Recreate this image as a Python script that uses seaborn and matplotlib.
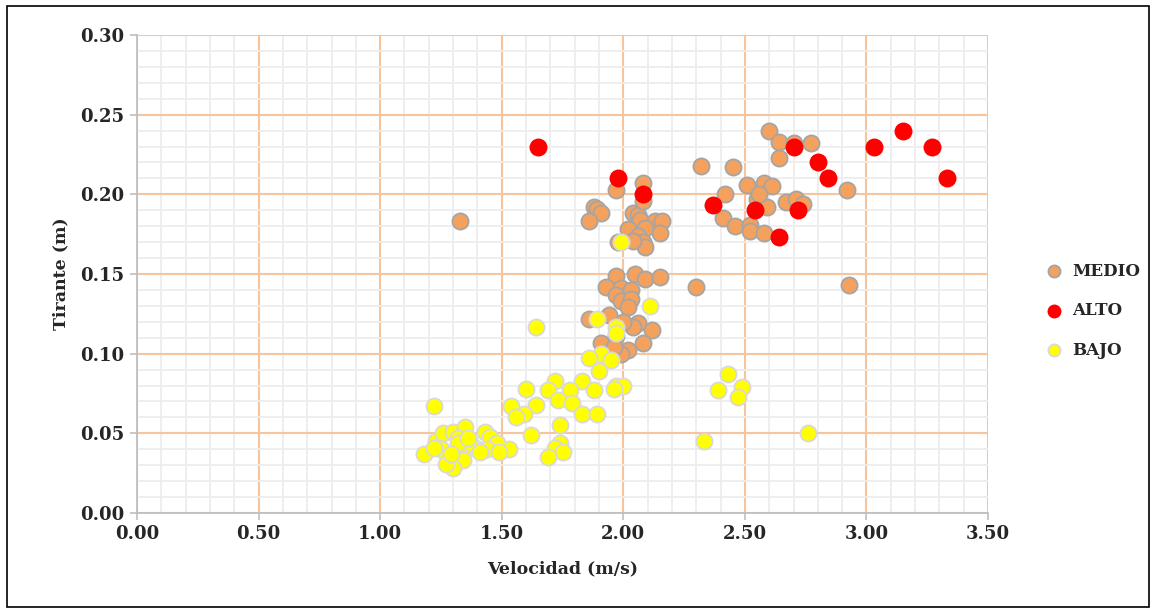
import pandas as pd
import seaborn as sns
import matplotlib.pyplot as plt
from matplotlib.patches import Rectangle
from matplotlib.ticker import MultipleLocator

# data
medio_x = [1.33,
           1.97, 2.08, 1.88, 1.89, 1.91, 1.86, 2.04, 2.06, 2.07, 2.13, 2.16, 2.09, 2.02,
           2.15, 2.06, 2.08, 2.09, 2.04, 1.98,
           1.97, 2.05, 2.09, 2.15, 1.93, 1.99, 2.03, 1.97, 1.99, 2.03, 2.02, 1.86, 1.94,
           2.06, 2.04, 2.12, 1.97, 2.08, 2.02, 1.99, 1.91, 1.96, 2.00,
           2.30, 2.93,
           2.60, 2.64, 2.70, 2.77, 2.64, 2.32, 2.45, 2.92, 2.51, 2.58, 2.61, 2.42, 2.55,
           2.59, 2.67, 2.71, 2.74, 2.41, 2.46, 2.52, 2.52, 2.58, 2.56, 2.08]
medio_y = [0.183,
           0.203, 0.207, 0.192, 0.191, 0.188, 0.183, 0.188, 0.187, 0.184, 0.183, 0.183, 0.179, 0.178,
           0.176, 0.174, 0.170, 0.167, 0.171, 0.170,
           0.149, 0.150, 0.147, 0.148, 0.142, 0.141, 0.140, 0.137, 0.133, 0.134, 0.129, 0.122, 0.124,
           0.119, 0.117, 0.115, 0.111, 0.107, 0.102, 0.100, 0.107, 0.104, 0.120,
           0.142, 0.143,
           0.240, 0.233, 0.232, 0.232, 0.223, 0.218, 0.217, 0.203, 0.206, 0.207, 0.205, 0.200, 0.197,
           0.192, 0.195, 0.197, 0.194, 0.185, 0.180, 0.181, 0.177, 0.176, 0.200, 0.196]

alto_x = [1.65, 1.98, 2.08, 2.37, 2.54, 2.64, 2.70, 2.72, 2.80, 2.84, 3.03, 3.15, 3.27, 3.33]
alto_y = [0.230, 0.210, 0.200, 0.193, 0.190, 0.173, 0.230, 0.190, 0.220, 0.210, 0.230, 0.240, 0.230, 0.210]

bajo_x = [1.99, 2.11, 1.89, 1.97, 1.97, 1.64,
          1.91, 1.86, 1.95, 1.90, 1.72, 1.83, 1.69, 1.78, 1.88, 1.97, 2.00, 1.96, 1.73, 1.79,
          1.83, 1.89, 1.64, 1.60, 1.59, 1.74, 1.62, 1.74, 1.72, 1.75, 1.69,
          1.54, 1.56, 1.53,
          2.43, 2.39, 2.49, 2.47, 2.33, 2.76,
          1.22, 1.18, 1.23, 1.26, 1.30, 1.35, 1.32, 1.43, 1.45, 1.48, 1.39, 1.34, 1.28, 1.34,
          1.30, 1.44, 1.37, 1.27, 1.25, 1.22, 1.41, 1.49, 1.32, 1.36, 1.29]
bajo_y = [0.170, 0.130, 0.122, 0.117, 0.113, 0.117,
          0.100, 0.097, 0.096, 0.089, 0.083, 0.083, 0.077, 0.077, 0.077, 0.080, 0.080, 0.078, 0.071, 0.069,
          0.062, 0.062, 0.068, 0.078, 0.062, 0.055, 0.049, 0.044, 0.041, 0.038, 0.035,
          0.067, 0.060, 0.040,
          0.087, 0.077, 0.079, 0.073, 0.045, 0.050,
          0.067, 0.037, 0.045, 0.050, 0.051, 0.054, 0.047, 0.051, 0.048, 0.044, 0.041, 0.040, 0.035, 0.033,
          0.028, 0.040, 0.044, 0.031, 0.040, 0.041, 0.038, 0.038, 0.044, 0.047, 0.037]

def main():
    sns.set_theme(style="white")
    plt.rcParams['font.family'] = ['DejaVu Serif']
    plt.rcParams['font.weight'] = 'bold'

    fig = plt.figure(figsize=(11.56, 6.14), dpi=100)
    ax = fig.add_axes([0.1185, 0.1645, 0.7362, 0.7785])

    series = [
        ("MEDIO", medio_x, medio_y, "#F4A15D", "#A5A5A5"),
        ("ALTO", alto_x, alto_y, "#FF0000", "#FF0000"),
        ("BAJO", bajo_x, bajo_y, "#FFFF00", "#D9D9D9"),
    ]
    for name, xs, ys, fc, ec in series:
        df = pd.DataFrame({"x": xs, "y": ys})
        sns.scatterplot(data=df, x="x", y="y", ax=ax, color=fc, edgecolor=ec,
                        linewidth=1.3, s=135, label=name, zorder=3)

    ax.set_xlim(0, 3.5)
    ax.set_ylim(0, 0.30)
    ax.xaxis.set_major_locator(MultipleLocator(0.5))
    ax.xaxis.set_minor_locator(MultipleLocator(0.1))
    ax.yaxis.set_major_locator(MultipleLocator(0.05))
    ax.yaxis.set_minor_locator(MultipleLocator(0.01))
    ax.xaxis.set_major_formatter(lambda v, p: f"{v:.2f}")
    ax.yaxis.set_major_formatter(lambda v, p: f"{v:.2f}")

    ax.grid(which="minor", color="#EDEDED", linewidth=1.3)
    ax.grid(which="major", color="#F8C49C", linewidth=1.5)
    ax.set_axisbelow(True)

    for side in ["top", "right"]:
        ax.spines[side].set_visible(False)
    for side in ["left", "bottom"]:
        ax.spines[side].set_color("#BFBFBF")
        ax.spines[side].set_linewidth(1.3)
    ax.tick_params(which="major", length=5, width=1.2, color="#BFBFBF",
                   labelsize=13, pad=4, bottom=True, left=True)
    ax.tick_params(which="minor", length=0)

    ax.set_xlabel("Velocidad (m/s)", fontsize=12.5, fontweight="bold", labelpad=12)
    ax.set_ylabel("Tirante (m)", fontsize=12.5, fontweight="bold", labelpad=8)

    leg = ax.legend(loc="center left", bbox_to_anchor=(1.04, 0.423), frameon=False,
                    fontsize=12, labelspacing=1.35, handletextpad=0.1,
                    markerscale=0.75)
    for t in leg.get_texts():
        t.set_fontweight("bold")

    fig.patches.append(Rectangle((0.006, 0.012), 0.988, 0.978, transform=fig.transFigure,
                                 fill=False, edgecolor="black", linewidth=1.2))

    fig.savefig("out.png", dpi=100)
    plt.close(fig)

if __name__ == '__main__':
    main()
